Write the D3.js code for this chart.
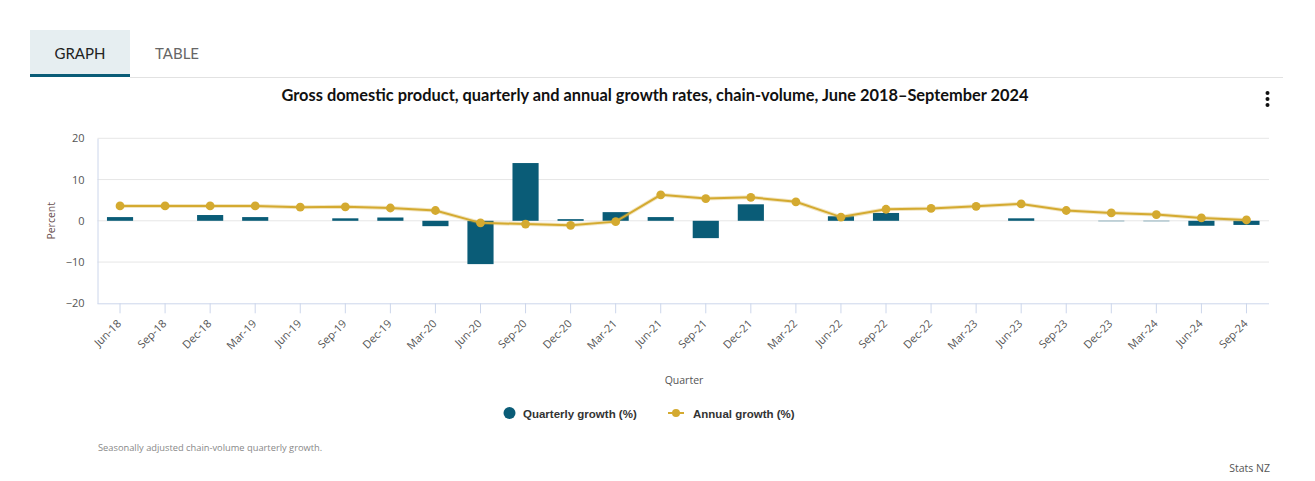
<!DOCTYPE html>
<html><head><meta charset="utf-8">
<script src="https://cdn.jsdelivr.net/npm/d3@7"></script>
<style>
body{margin:0;background:#fff;}
svg{display:block;}
</style></head>
<body>
<svg id="c" width="1315" height="481"></svg>
<script>
const categories = ["Jun-18","Sep-18","Dec-18","Mar-19","Jun-19","Sep-19","Dec-19","Mar-20","Jun-20","Sep-20","Dec-20","Mar-21","Jun-21","Sep-21","Dec-21","Mar-22","Jun-22","Sep-22","Dec-22","Mar-23","Jun-23","Sep-23","Dec-23","Mar-24","Jun-24","Sep-24"];
const quarterly = [0.9,0.0,1.4,0.9,0.0,0.6,0.8,-1.3,-10.5,14.0,0.4,2.1,0.9,-4.2,4.0,0.0,1.1,1.9,0.0,0.0,0.6,0.0,-0.1,-0.1,-1.2,-1.0];
const annual = [3.6,3.6,3.6,3.6,3.3,3.4,3.1,2.5,-0.5,-0.8,-1.1,-0.2,6.3,5.4,5.7,4.6,0.9,2.8,3.0,3.5,4.1,2.5,1.9,1.5,0.7,0.2];
const yTicks = [-20,-10,0,10,20];

const BAR = "#0a5c77", LINE = "#d4aa30";
const svg = d3.select("#c");
const L = 97.5, R = 1269, T = 138.3, B = 303.3;

// Tabs
svg.append("rect").attr("x",30).attr("y",30).attr("width",100).attr("height",47).attr("fill","#e6eef1");
svg.append("line").attr("x1",130).attr("x2",1283).attr("y1",77.5).attr("y2",77.5).attr("stroke","#e2e2e2").attr("stroke-width",1);
svg.append("rect").attr("x",30).attr("y",74).attr("width",100).attr("height",3).attr("fill","#0a5c77");
svg.append("text").attr("x",80).attr("y",59).attr("text-anchor","middle").attr("font-family","Lato, 'Open Sans', sans-serif").attr("font-size",15).attr("fill","#222").text("GRAPH");
svg.append("text").attr("x",177).attr("y",59).attr("text-anchor","middle").attr("font-family","Lato, 'Open Sans', sans-serif").attr("font-size",15).attr("fill","#666").text("TABLE");

// Title
const title = svg.append("text").attr("x",655).attr("y",101).attr("text-anchor","middle")
  .attr("font-family","Lato, 'Open Sans', sans-serif").attr("font-weight","bold").attr("font-size",15).attr("fill","#111")
  .text("Gross domestic product, quarterly and annual growth rates, chain-volume, June 2018–September 2024");
const tw = title.node().getComputedTextLength();
title.attr("font-size", 15*748/tw);

// menu dots
[93,99,105].forEach(y=>svg.append("circle").attr("cx",1267.5).attr("cy",y).attr("r",2).attr("fill","#111"));

const x = d3.scaleBand().domain(categories).range([L,R]).paddingInner(0.42).paddingOuter(0.21);
const y = d3.scaleLinear().domain([-20,20]).range([B,T]);

// gridlines
svg.append("g").selectAll("line").data(yTicks.filter(d=>d>-20)).join("line")
  .attr("x1",L).attr("x2",R).attr("y1",d=>y(d)).attr("y2",d=>y(d)).attr("stroke","#e6e6e6").attr("stroke-width",1);

// y axis labels
const yAxis = d3.axisLeft(y).tickValues(yTicks).tickSize(0).tickPadding(13).tickFormat(d3.format("d"));
const gy = svg.append("g").attr("transform",`translate(${L},0)`).call(yAxis);
gy.select(".domain").attr("stroke","#ccd6eb");
gy.selectAll("text").attr("font-family","'Open Sans', sans-serif").attr("font-size",11).attr("fill","#555");

// x axis
const xAxis = d3.axisBottom(x).tickSize(10).tickSizeOuter(0).tickFormat("");
const gx = svg.append("g").attr("transform",`translate(0,${B})`).call(xAxis);
gx.select(".domain").attr("stroke","#ccd6eb").attr("d",`M${L},0.5H${R}`);
gx.selectAll(".tick line").attr("stroke","#ccd6eb");
svg.append("g").selectAll("text").data(categories).join("text")
  .attr("transform",d=>`translate(${x(d)+x.bandwidth()/2+2},${B+21}) rotate(-45)`)
  .attr("text-anchor","end").attr("font-family","'Open Sans', sans-serif").attr("font-size",11).attr("fill","#555")
  .text(d=>d);

// axis titles
svg.append("text").attr("transform",`translate(55,${y(0)}) rotate(-90)`).attr("text-anchor","middle")
  .attr("font-family","'Open Sans', sans-serif").attr("font-size",10.5).attr("fill","#6a5050").text("Percent");
svg.append("text").attr("x",684).attr("y",384).attr("text-anchor","middle")
  .attr("font-family","'Open Sans', sans-serif").attr("font-size",10.5).attr("fill","#555").text("Quarter");

// bars
svg.append("g").selectAll("rect").data(quarterly).join("rect")
  .attr("x",(d,i)=>x(categories[i])).attr("width",x.bandwidth())
  .attr("y",d=>y(Math.max(0,d))).attr("height",d=>Math.abs(y(d)-y(0)))
  .attr("fill",BAR);

// line
const cx = (d,i)=>x(categories[i])+x.bandwidth()/2;
const lineGen = d3.line().x(cx).y(d=>y(d));
svg.append("path").datum(annual).attr("d",lineGen).attr("fill","none").attr("stroke",LINE).attr("stroke-opacity",0.3).attr("stroke-width",4);
svg.append("path").datum(annual).attr("d",lineGen).attr("fill","none").attr("stroke",LINE).attr("stroke-width",2);
svg.append("g").selectAll("circle").data(annual).join("circle")
  .attr("cx",cx).attr("cy",d=>y(d)).attr("r",4.4).attr("fill",LINE);

// legend
svg.append("circle").attr("cx",509.5).attr("cy",413).attr("r",6).attr("fill",BAR);
svg.append("text").attr("x",523).attr("y",417.5).attr("font-family","'Liberation Sans', Arial, sans-serif").attr("font-weight","bold").attr("font-size",11.5).attr("fill","#333").text("Quarterly growth (%)");
svg.append("line").attr("x1",668).attr("x2",684).attr("y1",413).attr("y2",413).attr("stroke",LINE).attr("stroke-width",2);
svg.append("circle").attr("cx",676).attr("cy",413).attr("r",4).attr("fill",LINE);
svg.append("text").attr("x",693).attr("y",417.5).attr("font-family","'Liberation Sans', Arial, sans-serif").attr("font-weight","bold").attr("font-size",11.5).attr("fill","#333").text("Annual growth (%)");

// footnote & credit
svg.append("text").attr("x",98).attr("y",451).attr("font-family","'Open Sans', sans-serif").attr("font-size",9.3).attr("fill","#888").text("Seasonally adjusted chain-volume quarterly growth.");
svg.append("text").attr("x",1270).attr("y",472).attr("text-anchor","end").attr("font-family","'Open Sans', sans-serif").attr("font-size",10.5).attr("fill","#555").text("Stats NZ");
</script>
</body></html>
